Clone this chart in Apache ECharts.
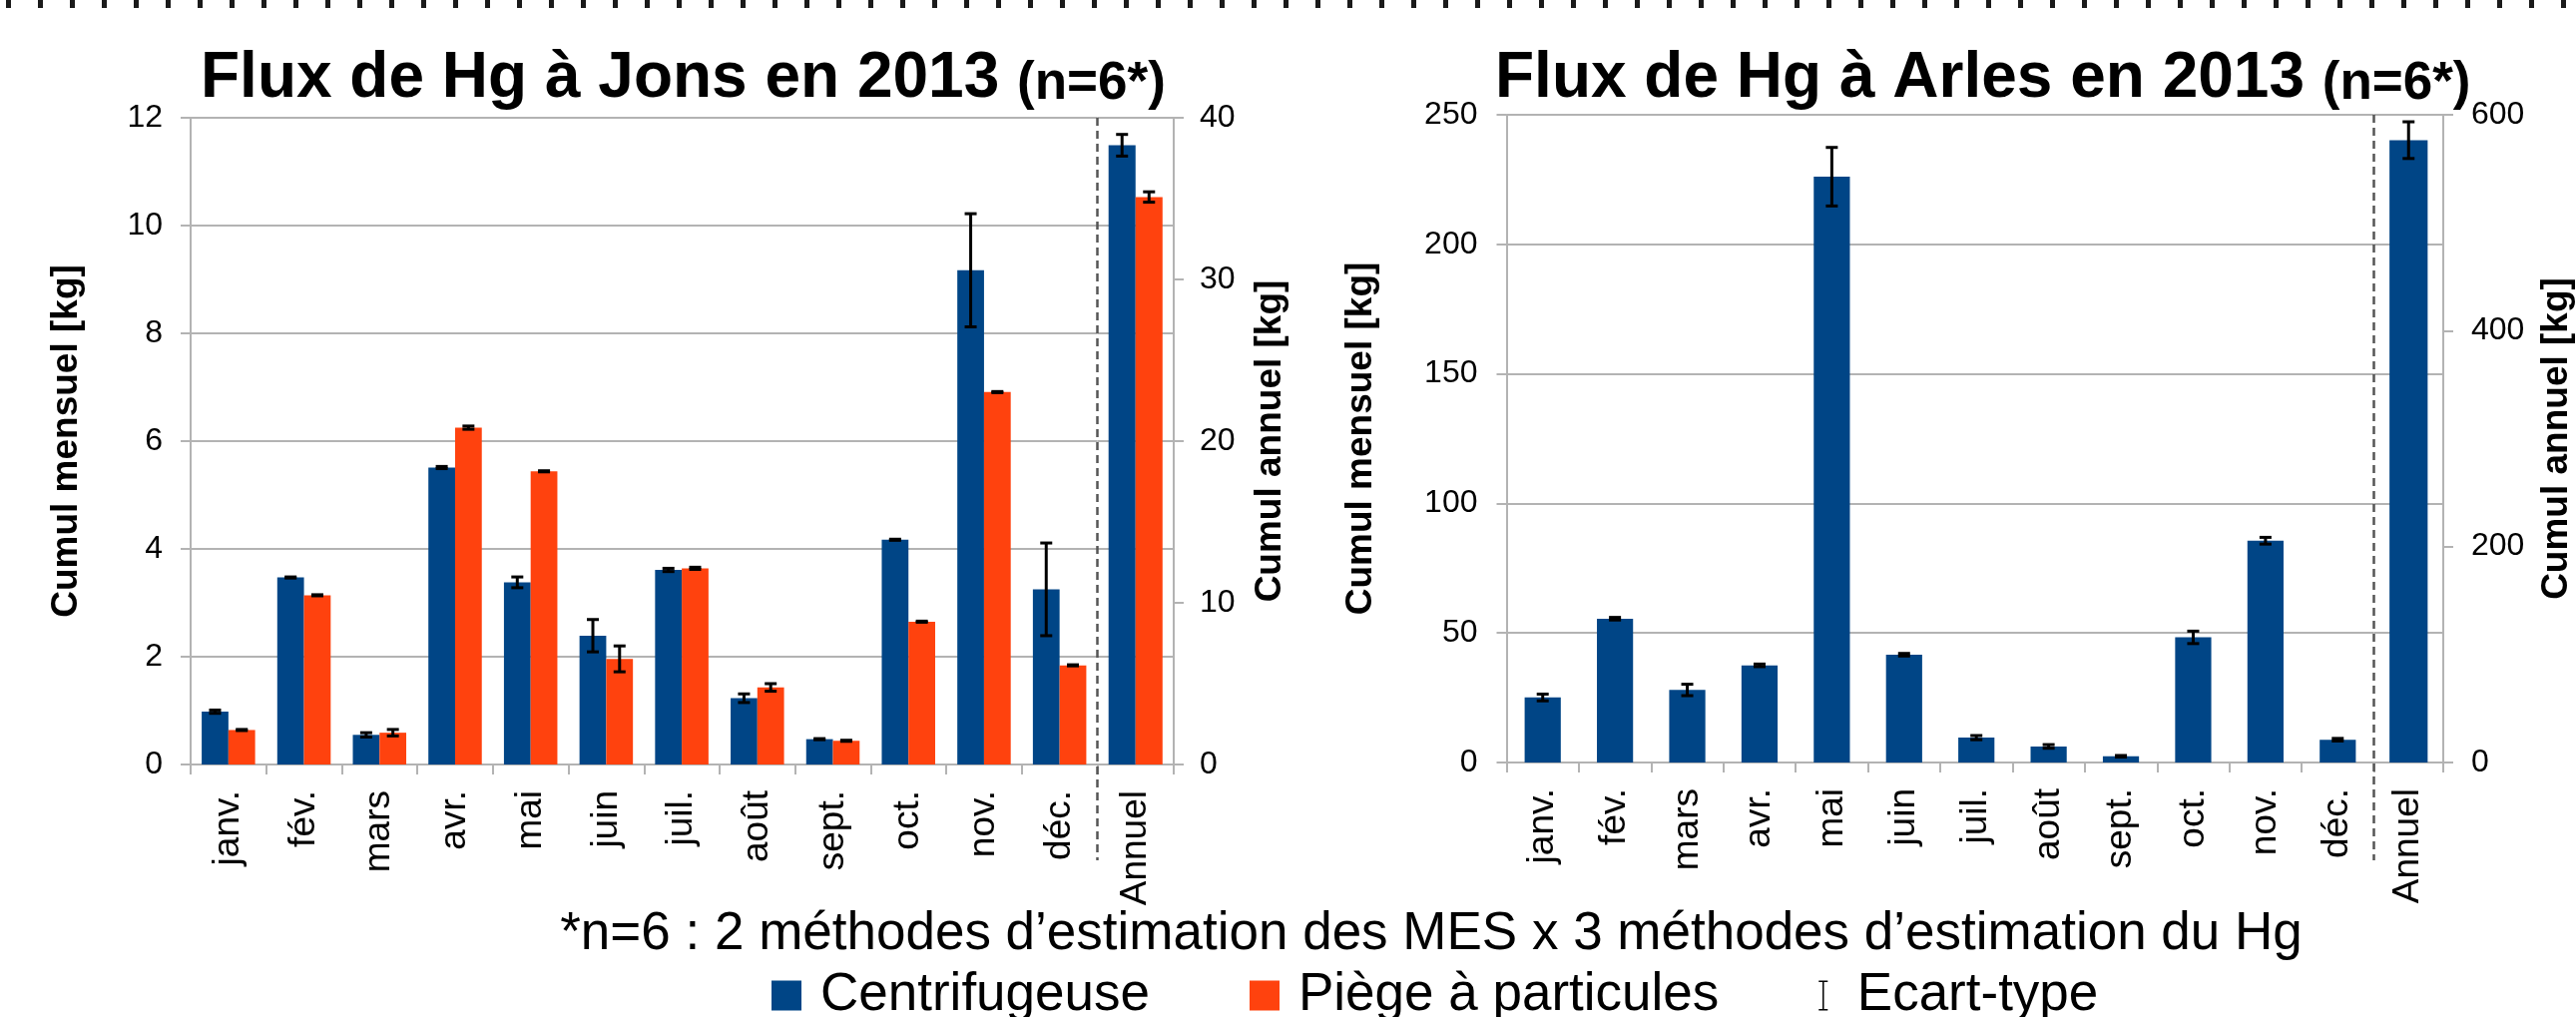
<!DOCTYPE html>
<html>
<head>
<meta charset="utf-8">
<script src="https://cdn.jsdelivr.net/npm/echarts@6/dist/echarts.min.js"></script>
<style>
html,body{margin:0;padding:0;background:#fff;}
#chart{width:2581px;height:1019px;}
</style>
</head>
<body>
<div id="chart"></div>
<script>
// ---------- DATA ----------
const months = ['janv.','fév.','mars','avr.','mai','juin','juil.','août','sept.','oct.','nov.','déc.'];
const annualLabel = ['Annuel'];

const jonsLeftTicks = [0, 12, 2];     // min, max, interval (Cumul mensuel)
const jonsRightTicks = [0, 40, 10];   // min, max, interval (Cumul annuel)
const arlesLeftTicks = [0, 250, 50];
const arlesRightTicks = [0, 600, 200];

const jonsCentriMonthly    = [0.98, 3.47, 0.55, 5.51, 3.38, 2.39, 3.61, 1.23, 0.47, 4.17, 9.17, 3.25];
const jonsCentriMonthlyErr = [0.03, 0.01, 0.04, 0.02, 0.10, 0.30, 0.03, 0.08, 0.01, 0.01, 1.05, 0.86];
const jonsPiegeMonthly     = [0.64, 3.14, 0.59, 6.25, 5.44, 1.96, 3.64, 1.43, 0.44, 2.65, 6.91, 1.84];
const jonsPiegeMonthlyErr  = [0.01, 0.01, 0.06, 0.03, 0.01, 0.24, 0.02, 0.07, 0.01, 0.01, 0.01, 0.01];
const jonsCentriAnnual     = [38.3];
const jonsCentriAnnualErr  = [0.67];
const jonsPiegeAnnual      = [35.1];
const jonsPiegeAnnualErr   = [0.32];

const arlesCentriMonthly    = [25.1, 55.5, 28.0, 37.5, 226.1, 41.6, 9.6, 6.2, 2.4, 48.3, 85.6, 8.8];
const arlesCentriMonthlyErr = [1.3, 0.5, 2.2, 0.5, 11.3, 0.5, 0.8, 0.7, 0.3, 2.4, 1.3, 0.5];
const arlesCentriAnnual     = [576.5];
const arlesCentriAnnualErr  = [17];

const titleJons  = 'Flux de Hg à Jons en 2013';
const titleArles = 'Flux de Hg à Arles en 2013';
const titleSuffix = '(n=6*)';
const yNameMonthly = 'Cumul mensuel [kg]';
const yNameAnnual  = 'Cumul annuel [kg]';
const footnote = '*n=6 : 2 méthodes d’estimation des MES x 3 méthodes d’estimation du Hg';
const legendNames = ['Centrifugeuse', 'Piège à particules', 'Ecart-type'];

// ---------- STYLE ----------
const BLUE = '#004586';
const ORANGE = '#ff420e';
const GRAY = '#b3b3b3';
const FONT = '"Liberation Sans", Arial, sans-serif';

const chart = echarts.init(document.getElementById('chart'), null, {renderer: 'canvas'});

function errRows(vals, errs) { return vals.map((v, i) => [i, v, errs[i]]); }

function errSeries(xi, yi, vals, errs, offsetFrac) {
  return {
    type: 'custom', name: legendNames[2], xAxisIndex: xi, yAxisIndex: yi,
    itemStyle: {color: '#000'}, z: 5,
    encode: {x: 0, y: 1},
    data: errRows(vals, errs),
    renderItem: function (params, api) {
      const i = api.value(0), v = api.value(1), e = api.value(2);
      const band = api.size([1, 0])[0];
      const cx = api.coord([i, v])[0] + offsetFrac * band;
      const top = api.coord([i, v + e])[1];
      const bot = api.coord([i, v - e])[1];
      const hw = 6;
      const st = {stroke: '#000', lineWidth: 3};
      return {type: 'group', children: [
        {type: 'line', shape: {x1: cx, y1: top, x2: cx, y2: bot}, style: st},
        {type: 'line', shape: {x1: cx - hw, y1: top, x2: cx + hw, y2: top}, style: st},
        {type: 'line', shape: {x1: cx - hw, y1: bot, x2: cx + hw, y2: bot}, style: st}
      ]};
    }
  };
}

const axisLineStyle = {show: true, lineStyle: {color: GRAY, width: 2}};
const tickStyle = {show: true, length: 10, lineStyle: {color: GRAY, width: 2}};
const splitStyle = {show: true, lineStyle: {color: GRAY, width: 2}};
const tickLabel = {color: '#000', fontSize: 32, fontFamily: FONT};
const nameStyle = {color: '#000', fontSize: 37, fontWeight: 'bold', fontFamily: FONT};

function catAxis(grid, data) {
  return {
    type: 'category', gridIndex: grid, data: data,
    axisLine: axisLineStyle, axisTick: tickStyle,
    axisLabel: {rotate: 90, interval: 0, margin: 26, color: '#000', fontSize: 37, fontFamily: FONT},
    splitLine: {show: false}
  };
}
function valAxis(grid, ticks, pos, opts) {
  return Object.assign({
    type: 'value', gridIndex: grid, position: pos,
    min: ticks[0], max: ticks[1], interval: ticks[2],
    axisLine: axisLineStyle, axisTick: tickStyle,
    axisLabel: Object.assign({margin: 27}, tickLabel),
    splitLine: {show: false}
  }, opts || {});
}
function hiddenGridAxis(grid, ticks) {
  return {
    type: 'value', gridIndex: grid, position: 'left',
    min: ticks[0], max: ticks[1], interval: ticks[2],
    axisLine: {show: false}, axisTick: {show: false}, axisLabel: {show: false},
    splitLine: splitStyle
  };
}

const JONS_GAP = '29.3%';
const jonsOff = (1 - 0.293) / 4;

const titleRich = {
  a: {fontSize: 64, fontWeight: 'bold', fontFamily: FONT, color: '#000', lineHeight: 72, verticalAlign: 'bottom'},
  b: {fontSize: 53, fontWeight: 'bold', fontFamily: FONT, color: '#000', lineHeight: 72, verticalAlign: 'bottom'}
};

const option = {
  animation: false,
  backgroundColor: '#fff',
  title: [
    {left: 201, top: 39, padding: 0,
     text: '{a|' + titleJons + ' }{b|' + titleSuffix + '}',
     textStyle: {rich: titleRich}},
    {left: 1498, top: 39, padding: 0,
     text: '{a|' + titleArles + ' }{b|' + titleSuffix + '}',
     textStyle: {rich: titleRich}}
  ],
  legend: {
    left: 768, top: 966, itemWidth: 30, itemHeight: 30, itemGap: 100,
    textStyle: {color: '#000', fontSize: 53, fontFamily: FONT, padding: [0, 0, 0, 14]},
    data: [
      {name: legendNames[0], icon: 'rect'},
      {name: legendNames[1], icon: 'rect'},
      {name: legendNames[2], icon: 'path://M0,0H12V2H7V38H12V40H0V38H5V2H0Z'}
    ],
    selectedMode: false
  },
  grid: [
    {left: 191, top: 118, width: 908.5, height: 648},
    {left: 1099.5, top: 118, width: 76.5, height: 648},
    {left: 1509.5, top: 115, width: 869, height: 649},
    {left: 2378.5, top: 115, width: 74, height: 649}
  ],
  xAxis: [
    catAxis(0, months),
    catAxis(1, annualLabel),
    catAxis(2, months),
    catAxis(3, annualLabel)
  ],
  yAxis: [
    valAxis(0, jonsLeftTicks, 'left', {splitLine: splitStyle, axisLabel: Object.assign({margin: 28}, tickLabel), name: yNameMonthly, nameLocation: 'middle', nameGap: 106, nameRotate: 90, nameTextStyle: nameStyle}),
    hiddenGridAxis(1, jonsLeftTicks),
    valAxis(1, jonsRightTicks, 'right', {axisLabel: Object.assign({margin: 26}, tickLabel), name: yNameAnnual, nameLocation: 'middle', nameGap: 78, nameRotate: 90, nameTextStyle: nameStyle}),
    valAxis(2, arlesLeftTicks, 'left', {splitLine: splitStyle, axisLabel: Object.assign({margin: 29}, tickLabel), name: yNameMonthly, nameLocation: 'middle', nameGap: 127, nameRotate: 90, nameTextStyle: nameStyle}),
    hiddenGridAxis(3, arlesLeftTicks),
    valAxis(3, arlesRightTicks, 'right', {axisLabel: Object.assign({margin: 28}, tickLabel), name: yNameAnnual, nameLocation: 'middle', nameGap: 95, nameRotate: 90, nameTextStyle: nameStyle})
  ],
  series: [
    {type: 'bar', name: legendNames[0], xAxisIndex: 0, yAxisIndex: 0, data: jonsCentriMonthly, itemStyle: {color: BLUE}, barGap: '0%', barCategoryGap: JONS_GAP},
    {type: 'bar', name: legendNames[1], xAxisIndex: 0, yAxisIndex: 0, data: jonsPiegeMonthly, itemStyle: {color: ORANGE}, barGap: '0%', barCategoryGap: JONS_GAP},
    {type: 'bar', name: legendNames[0], xAxisIndex: 1, yAxisIndex: 2, data: jonsCentriAnnual, itemStyle: {color: BLUE}, barGap: '0%', barCategoryGap: JONS_GAP},
    {type: 'bar', name: legendNames[1], xAxisIndex: 1, yAxisIndex: 2, data: jonsPiegeAnnual, itemStyle: {color: ORANGE}, barGap: '0%', barCategoryGap: JONS_GAP},
    errSeries(0, 0, jonsCentriMonthly, jonsCentriMonthlyErr, -jonsOff),
    errSeries(0, 0, jonsPiegeMonthly, jonsPiegeMonthlyErr, jonsOff),
    errSeries(1, 2, jonsCentriAnnual, jonsCentriAnnualErr, -jonsOff),
    errSeries(1, 2, jonsPiegeAnnual, jonsPiegeAnnualErr, jonsOff),
    {type: 'bar', name: legendNames[0], xAxisIndex: 2, yAxisIndex: 3, data: arlesCentriMonthly, itemStyle: {color: BLUE}, barCategoryGap: '50%'},
    {type: 'bar', name: legendNames[0], xAxisIndex: 3, yAxisIndex: 5, data: arlesCentriAnnual, itemStyle: {color: BLUE}, barCategoryGap: '45%'},
    errSeries(2, 3, arlesCentriMonthly, arlesCentriMonthlyErr, 0),
    errSeries(3, 5, arlesCentriAnnual, arlesCentriAnnualErr, 0)
  ],
  graphic: [
    {type: 'line', silent: true, shape: {x1: 6, y1: 4, x2: 2581, y2: 4}, style: {stroke: '#1a1a1a', lineWidth: 8, lineDash: [5, 27]}},
    {type: 'line', silent: true, z: 10, shape: {x1: 1099.5, y1: 118, x2: 1099.5, y2: 862}, style: {stroke: '#555', lineWidth: 2.5, lineDash: [8, 5]}},
    {type: 'line', silent: true, z: 10, shape: {x1: 2378.5, y1: 115, x2: 2378.5, y2: 862}, style: {stroke: '#555', lineWidth: 2.5, lineDash: [8, 5]}},
    {type: 'text', silent: true, x: 1434, y: 936,
     style: {text: footnote, fill: '#000', font: '53px ' + FONT, textAlign: 'center', textVerticalAlign: 'middle'}}
  ]
};
chart.setOption(option);
</script>
</body>
</html>
